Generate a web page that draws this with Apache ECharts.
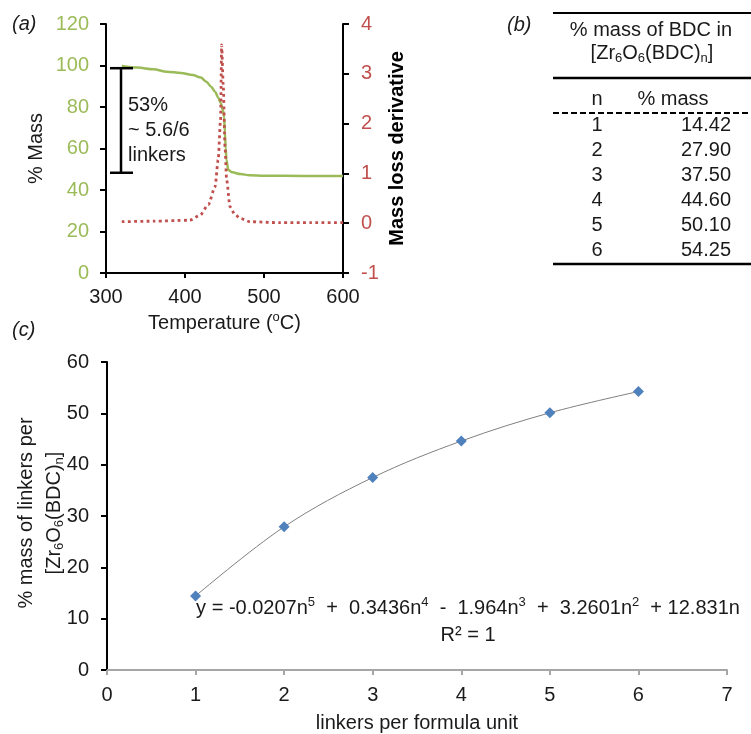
<!DOCTYPE html>
<html><head><meta charset="utf-8">
<script src="https://cdn.jsdelivr.net/npm/echarts@6/dist/echarts.min.js"></script>
<style>html,body{margin:0;padding:0;background:#fff}#c{width:751px;height:734px}</style>
</head><body><div id="c"></div>
<script>
// ---- Panel (a): TGA data ----
const tgaTemp = [320, 340, 360, 377, 395, 410, 420, 427, 433, 438, 442, 445, 448, 449.5, 450.5, 451.5, 452.5, 454.8, 460, 470, 482, 500, 550, 600];
const tgaMass = [99.8, 99.0, 98.2, 97.0, 96.4, 95.4, 94.2, 92.2, 89.8, 87.4, 84.6, 82.0, 78.5, 75.3, 68, 60, 54.5, 49.6, 48.5, 47.7, 47.1, 46.9, 46.8, 46.7];
const dtgTemp = [320, 360, 406, 419, 429.5, 438, 442, 445, 446.4, 448.5, 450.6, 452.7, 457, 463, 469.6, 482, 520, 560, 600];
const dtgValue = [0.03, 0.04, 0.06, 0.16, 0.37, 0.73, 1.27, 2.07, 3.58, 2.74, 1.54, 0.87, 0.33, 0.18, 0.10, 0.03, 0.01, 0.01, 0.01];
const massLossBar = [319, 98.7, 48.3];
const massLossText = ['53%', '~ 5.6/6', 'linkers'];
// ---- Panel (b)/(c): % mass of BDC ----
const linkers = [1, 2, 3, 4, 5, 6];
const massPct = [14.42, 27.90, 37.50, 44.60, 50.10, 54.25];
const massPctLabels = ['14.42', '27.90', '37.50', '44.60', '50.10', '54.25'];

const FONT = '"Liberation Sans", Arial, sans-serif';
const GREEN = '#9bbb59', RED = '#c0504d', BLUE = '#4f81bd';
const sub = {fontSize: 13, verticalAlign: 'bottom', lineHeight: 24, fontFamily: FONT, color: '#1a1a1a'};
const sup = {fontSize: 13, verticalAlign: 'top', lineHeight: 24, fontFamily: FONT, color: '#1a1a1a'};

const chart = echarts.init(document.getElementById('c'), null, {renderer: 'canvas'});

// table graphics
const tbl = [];
const tx0 = 553, tx1 = 751;
tbl.push({type:'line', shape:{x1:tx0,y1:13,x2:tx1,y2:13}, style:{stroke:'#000',lineWidth:2}});
tbl.push({type:'text', x:651, y:30, style:{text:'% mass of BDC in', font:'20px '+FONT, fill:'#1a1a1a', align:'center', verticalAlign:'middle'}});
tbl.push({type:'text', x:652, y:53, style:{text:'[Zr{s|6}O{s|6}(BDC){s|n}]', font:'20px '+FONT, fill:'#1a1a1a', align:'center', verticalAlign:'middle', lineHeight:24, rich:{s:sub}}});
tbl.push({type:'line', shape:{x1:tx0,y1:78,x2:tx1,y2:78}, style:{stroke:'#000',lineWidth:2.5}});
tbl.push({type:'text', x:597, y:99, style:{text:'n', font:'20px '+FONT, fill:'#1a1a1a', align:'center', verticalAlign:'middle'}});
tbl.push({type:'text', x:673, y:99, style:{text:'% mass', font:'20px '+FONT, fill:'#1a1a1a', align:'center', verticalAlign:'middle'}});
tbl.push({type:'line', shape:{x1:tx0,y1:113,x2:tx1,y2:113}, style:{stroke:'#000',lineWidth:2, lineDash:[6,3]}});
linkers.forEach((n,i)=>{
  const y = 125 + i*25;
  tbl.push({type:'text', x:597, y:y, style:{text:String(n), font:'20px '+FONT, fill:'#1a1a1a', align:'center', verticalAlign:'middle'}});
  tbl.push({type:'text', x:731, y:y, style:{text:massPctLabels[i], font:'20px '+FONT, fill:'#1a1a1a', align:'right', verticalAlign:'middle'}});
});
tbl.push({type:'line', shape:{x1:tx0,y1:264,x2:tx1,y2:264}, style:{stroke:'#000',lineWidth:2.5}});

const panelLabels = [
  {type:'text', x:12, y:24, style:{text:'(a)', font:'italic 20px '+FONT, fill:'#1a1a1a', verticalAlign:'middle'}},
  {type:'text', x:507, y:25, style:{text:'(b)', font:'italic 20px '+FONT, fill:'#1a1a1a', verticalAlign:'middle'}},
  {type:'text', x:12, y:330, style:{text:'(c)', font:'italic 20px '+FONT, fill:'#1a1a1a', verticalAlign:'middle'}},
];
const annot = massLossText.map((t,i)=>({type:'text', x:128, y:105+i*25, style:{text:t, font:'20px '+FONT, fill:'#1a1a1a', verticalAlign:'middle'}}));
const eq = [
  {type:'text', x:468, y:608, style:{text:'y = -0.0207n{p|5}  +  0.3436n{p|4}  -  1.964n{p|3}  +  3.2601n{p|2}  + 12.831n', font:'20px '+FONT, fill:'#1a1a1a', align:'center', verticalAlign:'middle', lineHeight:24, rich:{p:sup}}},
  {type:'text', x:468, y:635, style:{text:'R² = 1', font:'20px '+FONT, fill:'#1a1a1a', align:'center', verticalAlign:'middle'}}
];
const cYName = [
  {type:'text', x:26, y:513, rotation: Math.PI/2,
   style:{text:'% mass of linkers per', font:'20px '+FONT, fill:'#1a1a1a', align:'center', verticalAlign:'middle'}},
  {type:'text', x:54, y:513, rotation: Math.PI/2,
   style:{text:'[Zr{s|6}O{s|6}(BDC){s|n}]', font:'20px '+FONT, fill:'#1a1a1a', align:'center', verticalAlign:'middle', lineHeight:24, rich:{s: sub}}}
];

const lbl = (c) => ({color: c, fontSize: 20, fontFamily: FONT});

chart.setOption({
  animation: false,
  backgroundColor: '#fff',
  textStyle: {fontFamily: FONT},
  grid: [
    {left: 106, width: 237, top: 24, height: 249, outerBoundsMode: 'none', containLabel: false},
    {left: 107, width: 620, top: 362, height: 308, outerBoundsMode: 'none', containLabel: false}
  ],
  xAxis: [
    {gridIndex: 0, type: 'value', min: 300, max: 600, interval: 100,
     axisLine: {onZero: false, lineStyle: {color: '#000', width: 2}},
     axisTick: {length: 5, lineStyle: {color: '#000', width: 2}},
     splitLine: {show: false},
     axisLabel: Object.assign(lbl('#1a1a1a'), {margin: 14}),
     name: 'Temperature ({o|o}C)', nameLocation: 'middle', nameGap: 38,
     nameTextStyle: {fontSize: 20, fontFamily: FONT, color: '#1a1a1a', rich: {o: sup}}},
    {gridIndex: 1, type: 'value', min: 0, max: 7, interval: 1,
     axisLine: {onZero: false, lineStyle: {color: '#a6a6a6', width: 2}},
     axisTick: {length: 5, lineStyle: {color: '#a6a6a6', width: 2}},
     splitLine: {show: false},
     axisLabel: Object.assign(lbl('#1a1a1a'), {margin: 15}),
     name: 'linkers per formula unit', nameLocation: 'middle', nameGap: 43,
     nameTextStyle: {fontSize: 20, fontFamily: FONT, color: '#1a1a1a'}}
  ],
  yAxis: [
    {gridIndex: 0, type: 'value', position: 'left', min: 0, max: 120, interval: 20,
     axisLine: {show: true, onZero: false, lineStyle: {color: '#000', width: 2}},
     axisTick: {show: true, length: 6, lineStyle: {color: '#000', width: 2}},
     splitLine: {show: false},
     axisLabel: Object.assign(lbl(GREEN), {margin: 17}),
     name: '% Mass', nameLocation: 'middle', nameGap: 60, nameRotate: 90,
     nameTextStyle: {fontSize: 20, fontFamily: FONT, color: '#1a1a1a'}},
    {gridIndex: 0, type: 'value', position: 'right', min: -1, max: 4, interval: 1,
     axisLine: {show: true, onZero: false, lineStyle: {color: '#000', width: 2}},
     axisTick: {show: true, length: 6, lineStyle: {color: '#000', width: 2}},
     splitLine: {show: false},
     axisLabel: Object.assign(lbl(RED), {margin: 18}),
     name: 'Mass loss derivative', nameLocation: 'middle', nameGap: 44, nameRotate: 90,
     nameTextStyle: {fontSize: 20, fontWeight: 'bold', fontFamily: FONT, color: '#000'}},
    {gridIndex: 1, type: 'value', min: 0, max: 60, interval: 10,
     axisLine: {show: true, onZero: false, lineStyle: {color: '#000', width: 2}},
     axisTick: {show: true, length: 6, lineStyle: {color: '#000', width: 2}},
     splitLine: {show: false},
     axisLabel: Object.assign(lbl('#1a1a1a'), {margin: 18})}
  ],
  series: [
    {type: 'line', xAxisIndex: 0, yAxisIndex: 0, data: tgaTemp.map((t,i)=>[t, tgaMass[i]]),
     showSymbol: false, smooth: 0.3, smoothMonotone: 'x', lineStyle: {color: GREEN, width: 2.5}, z: 2},
    {type: 'line', xAxisIndex: 0, yAxisIndex: 1, data: dtgTemp.map((t,i)=>[t, dtgValue[i]]),
     showSymbol: false, smooth: 0.25, smoothMonotone: 'x', lineStyle: {color: RED, width: 2.8, type: [2.8, 3.4]}, z: 3},
    {type: 'custom', xAxisIndex: 0, yAxisIndex: 0, data: [massLossBar], encode: {x: 0, y: [1, 2]},
     renderItem: function(params, api){
       const x = api.value(0);
       const top = api.coord([x, api.value(1)]);
       const bot = api.coord([x, api.value(2)]);
       const st = {stroke: '#000', lineWidth: 2.5};
       return {type: 'group', children: [
         {type: 'line', shape: {x1: top[0], y1: top[1], x2: bot[0], y2: bot[1]}, style: st},
         {type: 'line', shape: {x1: top[0]-11, y1: top[1], x2: top[0]+12, y2: top[1]}, style: st},
         {type: 'line', shape: {x1: bot[0]-11, y1: bot[1], x2: bot[0]+12, y2: bot[1]}, style: st}
       ]};
     }, z: 4},
    {type: 'line', xAxisIndex: 1, yAxisIndex: 2, data: linkers.map((n,i)=>[n, massPct[i]]),
     smooth: 0.35, symbol: 'diamond', symbolSize: 11, showSymbol: true,
     lineStyle: {color: '#808080', width: 1}, itemStyle: {color: BLUE}, z: 3}
  ],
  graphic: [].concat(tbl, panelLabels, annot, eq, cYName)
});
</script></body></html>
